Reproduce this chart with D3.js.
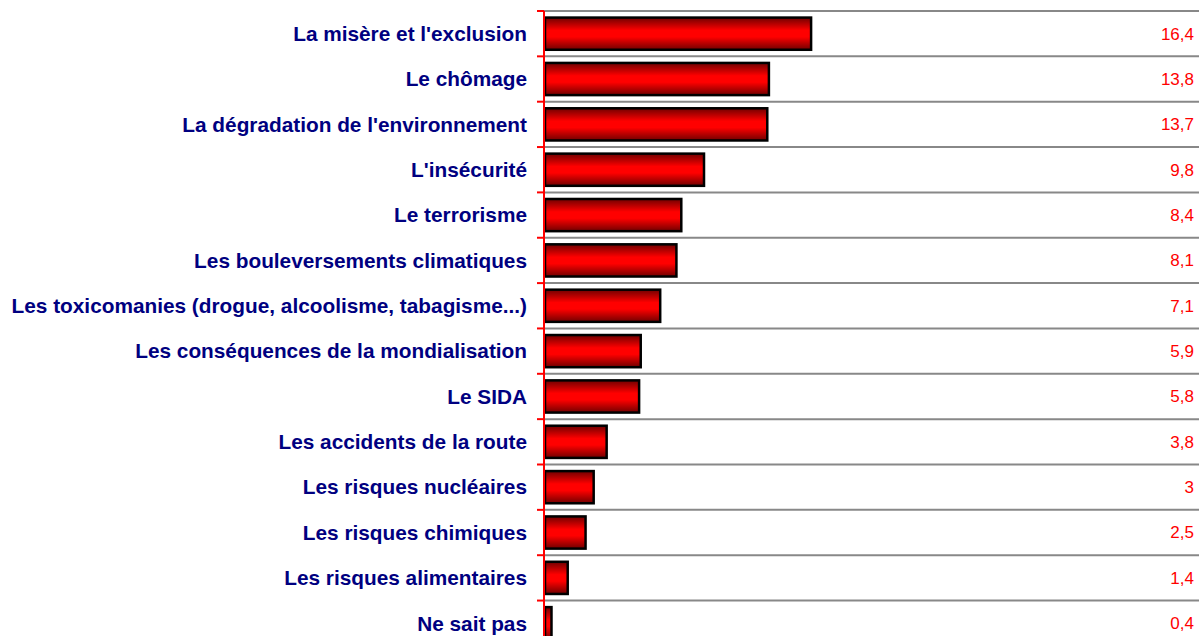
<!DOCTYPE html>
<html>
<head>
<meta charset="utf-8">
<script src="https://d3js.org/d3.v7.min.js"></script>
<style>
  body { margin: 0; background: #fff; }
  svg { display: block; }
</style>
</head>
<body>
<script>
// data
var categories = [
  "La misère et l'exclusion",
  "Le chômage",
  "La dégradation de l'environnement",
  "L'insécurité",
  "Le terrorisme",
  "Les bouleversements climatiques",
  "Les toxicomanies (drogue, alcoolisme, tabagisme...)",
  "Les conséquences de la mondialisation",
  "Le SIDA",
  "Les accidents de la route",
  "Les risques nucléaires",
  "Les risques chimiques",
  "Les risques alimentaires",
  "Ne sait pas"
];
var values = [16.4, 13.8, 13.7, 9.8, 8.4, 8.1, 7.1, 5.9, 5.8, 3.8, 3, 2.5, 1.4, 0.4];
var valueLabels = ["16,4", "13,8", "13,7", "9,8", "8,4", "8,1", "7,1", "5,9", "5,8", "3,8", "3", "2,5", "1,4", "0,4"];

var W = 1199, H = 636;
var axisX = 544, top0 = 11, step = 45.35;

var svg = d3.select("body").append("svg")
    .attr("width", W)
    .attr("height", H);

// vertical shading of the bars: dark edges, bright middle
var grad = svg.append("defs").append("linearGradient")
    .attr("id", "barGrad")
    .attr("x1", 0).attr("y1", 0).attr("x2", 0).attr("y2", 1);
grad.append("stop").attr("offset", "0%").attr("stop-color", "#700000");
grad.append("stop").attr("offset", "40%").attr("stop-color", "#ff0000");
grad.append("stop").attr("offset", "60%").attr("stop-color", "#ff0000");
grad.append("stop").attr("offset", "100%").attr("stop-color", "#700000");

var x = d3.scaleLinear().domain([0, 40]).range([axisX + 1, 1194]);
var y = d3.scaleBand()
    .domain(categories)
    .range([top0, top0 + step * categories.length])
    .paddingInner(0.29)
    .paddingOuter(0.145);

// gridlines
var gridY = d3.range(categories.length + 1).map(function(i) { return top0 + i * step; });
svg.selectAll(".grid")
    .data(gridY)
    .enter().append("line")
    .attr("x1", axisX).attr("x2", W)
    .attr("y1", function(d) { return d; })
    .attr("y2", function(d) { return d; })
    .attr("stroke", "#888")
    .attr("stroke-width", 2);

// ticks
svg.selectAll(".tick")
    .data(gridY)
    .enter().append("line")
    .attr("x1", axisX - 7).attr("x2", axisX)
    .attr("y1", function(d) { return d; })
    .attr("y2", function(d) { return d; })
    .attr("stroke", "#ff0000")
    .attr("stroke-width", 2);

// bars
svg.selectAll(".bar")
    .data(values)
    .enter().append("rect")
    .attr("x", x(0))
    .attr("y", function(d, i) { return y(categories[i]); })
    .attr("width", function(d) { return x(d) - x(0); })
    .attr("height", y.bandwidth())
    .attr("fill", "url(#barGrad)")
    .attr("stroke", "#000")
    .attr("stroke-width", 2.5);

// axis line
svg.append("line")
    .attr("x1", axisX).attr("x2", axisX)
    .attr("y1", top0).attr("y2", H)
    .attr("stroke", "#ff0000")
    .attr("stroke-width", 2);

// category labels
svg.selectAll(".lab")
    .data(categories)
    .enter().append("text")
    .attr("x", 527)
    .attr("y", function(d) { return y(d) + y.bandwidth() / 2; })
    .attr("dy", "0.35em")
    .attr("text-anchor", "end")
    .style("font-family", "'Liberation Sans', Arial, sans-serif")
    .style("font-weight", "bold")
    .style("font-size", "20.8px")
    .style("fill", "#000080")
    .text(function(d) { return d; });

// value labels
svg.selectAll(".val")
    .data(valueLabels)
    .enter().append("text")
    .attr("x", 1194)
    .attr("y", function(d, i) { return y(categories[i]) + y.bandwidth() / 2; })
    .attr("dy", "0.35em")
    .attr("text-anchor", "end")
    .style("font-family", "'Liberation Sans', Arial, sans-serif")
    .style("font-size", "17px")
    .style("fill", "#ff0000")
    .text(function(d) { return d; });
</script>
</body>
</html>
